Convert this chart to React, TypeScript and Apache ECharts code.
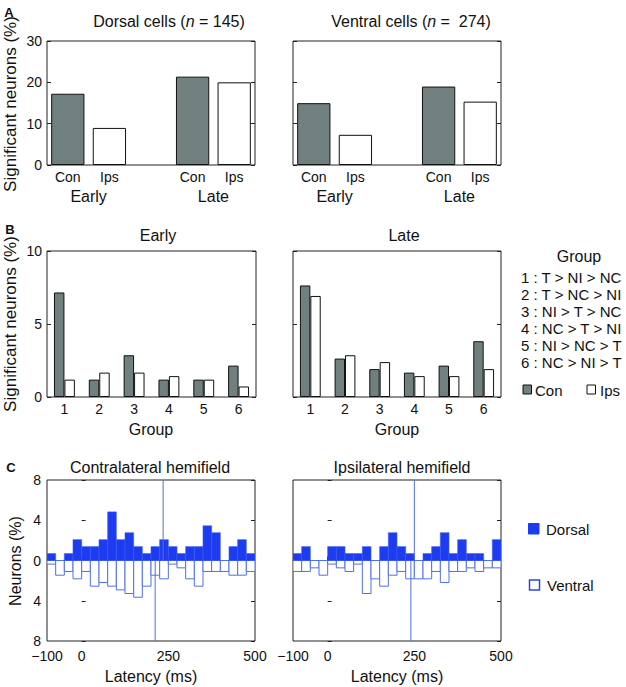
import React, { useEffect, useRef } from 'react';
import * as echarts from 'echarts';

// ---------- Data ----------
// Panel A
const aCategories = ['Con', 'Ips', '', 'Con', 'Ips'];
const aPeriodLabels = ['', '', 'Early', '', '', '', '', '', 'Late', '', ''];
const dorsalCon = [17.24, 21.38]; // Early, Late
const dorsalIps = [8.97, 20.0];
const ventralCon = [14.96, 18.98];
const ventralIps = [7.3, 15.33];

// Panel B
const groups = ['1', '2', '3', '4', '5', '6'];
const earlyCon = [7.16, 1.19, 2.86, 1.19, 1.19, 2.15];
const earlyIps = [1.19, 1.67, 1.67, 1.43, 1.19, 0.72];
const lateCon = [7.64, 2.63, 1.91, 1.67, 2.15, 3.82];
const lateIps = [6.92, 2.86, 2.39, 1.43, 1.43, 1.91];
const groupDefs = [
  '1 : T > NI > NC',
  '2 : T > NC > NI',
  '3 : NI > T > NC',
  '4 : NC > T > NI',
  '5 : NI > NC > T',
  '6 : NC > NI > T',
];

// Panel C (latency histograms, 25 ms bins)
const latencyEdges = [-100, -75, -50, -25, 0, 25, 50, 75, 100, 125, 150, 175, 200, 225, 250, 275, 300, 325, 350, 375, 400, 425, 450, 475, 500];
const contraDorsal = [0.69, 0, 0.69, 2.07, 1.38, 1.38, 2.07, 4.83, 2.07, 2.76, 1.38, 0.69, 1.38, 2.07, 1.38, 0.69, 1.38, 1.38, 3.45, 2.76, 0, 1.38, 2.07, 0.69];
const contraVentral = [0.36, 1.46, 1.09, 1.82, 1.09, 2.55, 2.19, 2.55, 2.92, 3.28, 3.65, 2.55, 1.46, 1.82, 0.36, 0.73, 1.82, 2.55, 1.09, 1.09, 1.09, 1.46, 1.46, 1.09];
const ipsiDorsal = [0.69, 1.38, 0, 0, 1.38, 1.38, 0.69, 0.69, 1.38, 0, 1.38, 2.76, 1.38, 0.69, 0, 0.69, 1.38, 2.76, 0.69, 2.07, 0.69, 0.69, 0, 2.07];
const ipsiVentral = [1.09, 1.09, 0.73, 1.46, 0.36, 0.73, 1.09, 0.36, 3.28, 1.82, 2.55, 1.46, 1.09, 1.82, 1.82, 1.82, 1.09, 2.19, 1.09, 1.09, 0.73, 1.09, 0.73, 0.73];
const contraDorsalMedian = 235;
const contraVentralMedian = 212;
const ipsiDorsalMedian = 250;
const ipsiVentralMedian = 240;
const latencyLabelValues = [-100, 0, 250, 500];
const latencyTickValues = [0, 250];

// ---------- Styles ----------
const FONT = '"Liberation Sans", Arial, Helvetica, sans-serif';
const TXT = '#111';
const AXIS = '#222';
const GRAY = '#6f807f';
const BLUE = '#1d3cf2';
const BLUE_EDGE = '#3a5aee';
const LIGHT_BLUE = '#5070e6';

const grids = [
  { left: 47, top: 41, width: 208, height: 124 },
  { left: 293, top: 41, width: 208, height: 124 },
  { left: 47, top: 251, width: 209, height: 146 },
  { left: 293, top: 251, width: 208, height: 146 },
  { left: 47, top: 480, width: 208, height: 161 },
  { left: 293, top: 480, width: 208, height: 161 },
];

function buildOption() {
  const xAxes: any[] = [];
  const yAxes: any[] = [];
  const series: any[] = [];
  const tick = { inside: true, length: 4, lineStyle: { color: AXIS, width: 1 } };
  const noLine = { show: false };
  const lbl = (extra: any) => ({ fontSize: 14, fontFamily: FONT, color: TXT, ...extra });

  const addX = (ax: any) => { xAxes.push(ax); return xAxes.length - 1; };
  const addY = (ax: any) => { yAxes.push(ax); return yAxes.length - 1; };

  const panelA = (gi: number, con: number[], ips: number[], showY: boolean) => {
    const xi = addX({ type: 'category', gridIndex: gi, data: aCategories, position: 'bottom', axisLine: noLine,
      axisTick: { ...tick, alignWithLabel: true }, axisLabel: lbl({ margin: 5, interval: 0 }) });
    addX({ type: 'category', gridIndex: gi, data: aCategories, position: 'top', axisLine: noLine,
      axisTick: { ...tick, alignWithLabel: true }, axisLabel: { show: false } });
    addX({ type: 'category', gridIndex: gi, data: aPeriodLabels, boundaryGap: false, position: 'bottom', axisLine: noLine,
      axisTick: { show: false }, axisLabel: lbl({ fontSize: 16, margin: 23, interval: 0 }) });
    const yi = addY({ type: 'value', gridIndex: gi, min: 0, max: 30, interval: 10, position: 'left', axisLine: noLine,
      axisTick: { ...tick, show: true }, splitLine: { show: false }, axisLabel: lbl({ show: showY, margin: 5 }) });
    addY({ type: 'value', gridIndex: gi, min: 0, max: 30, interval: 10, position: 'right', axisLine: noLine,
      axisTick: { ...tick, show: true }, splitLine: { show: false }, axisLabel: { show: false } });
    const conData = [con[0], '-', '-', con[1], '-'];
    const ipsData = ['-', ips[0], '-', '-', ips[1]];
    series.push({ type: 'bar', xAxisIndex: xi, yAxisIndex: yi, data: conData, barWidth: '80%', barGap: '-100%',
      itemStyle: { color: GRAY, borderColor: '#111', borderWidth: 1 } });
    series.push({ type: 'bar', xAxisIndex: xi, yAxisIndex: yi, data: ipsData, barWidth: '80%', barGap: '-100%',
      itemStyle: { color: '#fff', borderColor: '#111', borderWidth: 1 } });
  };

  const panelB = (gi: number, con: number[], ips: number[], showY: boolean) => {
    const xi = addX({ type: 'category', gridIndex: gi, data: groups, position: 'bottom', axisLine: noLine,
      axisTick: { ...tick, alignWithLabel: true }, axisLabel: lbl({ margin: 5, interval: 0 }) });
    addX({ type: 'category', gridIndex: gi, data: groups, position: 'top', axisLine: noLine,
      axisTick: { ...tick, alignWithLabel: true }, axisLabel: { show: false } });
    const yi = addY({ type: 'value', gridIndex: gi, min: 0, max: 10, interval: 5, position: 'left', axisLine: noLine,
      axisTick: { ...tick, show: true }, splitLine: { show: false }, axisLabel: lbl({ show: showY, margin: 5 }) });
    addY({ type: 'value', gridIndex: gi, min: 0, max: 10, interval: 5, position: 'right', axisLine: noLine,
      axisTick: { ...tick, show: true }, splitLine: { show: false }, axisLabel: { show: false } });
    series.push({ type: 'bar', xAxisIndex: xi, yAxisIndex: yi, data: con, barGap: '0%', barCategoryGap: '40%',
      itemStyle: { color: GRAY, borderColor: '#111', borderWidth: 1 } });
    series.push({ type: 'bar', xAxisIndex: xi, yAxisIndex: yi, data: ips, barGap: '0%', barCategoryGap: '40%',
      itemStyle: { color: '#fff', borderColor: '#111', borderWidth: 1 } });
  };

  const histSeries = (xi: number, yi: number, vals: number[], sign: number, filled: boolean) => ({
    type: 'custom', xAxisIndex: xi, yAxisIndex: yi, clip: true,
    encode: { x: [0, 1], y: 2 },
    data: vals.map((v, i) => [latencyEdges[i], latencyEdges[i + 1], sign * v]),
    renderItem: (params: any, api: any) => {
      const v = api.value(2);
      if (!v) return null;
      const p0 = api.coord([api.value(0), 0]);
      const p1 = api.coord([api.value(1), v]);
      return {
        type: 'rect',
        shape: { x: p0[0], y: Math.min(p0[1], p1[1]), width: p1[0] - p0[0], height: Math.abs(p1[1] - p0[1]) },
        style: filled ? { fill: BLUE, stroke: BLUE_EDGE, lineWidth: 0.6 } : { fill: '#fff', stroke: LIGHT_BLUE, lineWidth: 1 },
      };
    },
  });

  const panelC = (gi: number, dorsal: number[], ventral: number[], dMed: number, vMed: number, showY: boolean) => {
    const xi = addX({ type: 'value', gridIndex: gi, min: -100, max: 500, position: 'bottom', axisLine: noLine,
      splitLine: { show: false },
      axisTick: { ...tick, customValues: latencyTickValues },
      axisLabel: lbl({ margin: 8, lineHeight: 14, customValues: latencyLabelValues, showMinLabel: true, showMaxLabel: true,
        formatter: (v: number) => (v < 0 ? '\u2212' + Math.abs(v) : String(v)) }) });
    const yi = addY({ type: 'value', gridIndex: gi, min: -8, max: 8, interval: 4, position: 'left', axisLine: noLine,
      axisTick: { ...tick, show: true }, splitLine: { show: false },
      axisLabel: lbl({ show: showY, margin: 6, lineHeight: 13, formatter: (v: number) => String(Math.abs(v)) }) });
    addY({ type: 'value', gridIndex: gi, min: -8, max: 8, interval: 4, position: 'right', axisLine: noLine,
      axisTick: { ...tick, show: true }, splitLine: { show: false }, axisLabel: { show: false } });
    series.push(histSeries(xi, yi, ventral, -1, false));
    series.push(histSeries(xi, yi, dorsal, 1, true));
    series.push({ type: 'line', xAxisIndex: xi, yAxisIndex: yi, data: [[dMed, 0], [dMed, 8]], symbol: 'none', z: 5,
      lineStyle: { color: LIGHT_BLUE, width: 1 } });
    series.push({ type: 'line', xAxisIndex: xi, yAxisIndex: yi, data: [[vMed, 0], [vMed, -8]], symbol: 'none', z: 5,
      lineStyle: { color: LIGHT_BLUE, width: 1 } });
  };

  panelA(0, dorsalCon, dorsalIps, true);
  panelA(1, ventralCon, ventralIps, false);
  panelB(2, earlyCon, earlyIps, true);
  panelB(3, lateCon, lateIps, false);
  panelC(4, contraDorsal, contraVentral, contraDorsalMedian, contraVentralMedian, true);
  panelC(5, ipsiDorsal, ipsiVentral, ipsiDorsalMedian, ipsiVentralMedian, false);

  const text = (t: string, x: number, y: number, size: number, opts: any = {}) => ({
    type: 'text', x, y, rotation: opts.rotation || 0, z: 10,
    style: {
      text: t, x: 0, y: 0, fill: TXT, fontSize: size, fontFamily: FONT, fontWeight: opts.bold ? 'bold' : 'normal',
      align: opts.align || 'center', textAlign: opts.align || 'center',
      verticalAlign: 'middle', textVerticalAlign: 'middle',
      ...(opts.rich ? { rich: opts.rich } : {}),
    },
  });
  const richItal = {
    a: { fontSize: 16, fontFamily: FONT, fill: TXT },
    i: { fontSize: 16, fontFamily: FONT, fill: TXT, fontStyle: 'italic' },
  };

  const graphic: any[] = [
    text('A', 9, 12, 13, { bold: true }),
    text('B', 10, 229, 13, { bold: true }),
    text('C', 11, 467, 13, { bold: true }),
    text('{a|Dorsal cells (}{i|n}{a| = 145)}', 169, 21, 16, { rich: richItal }),
    text('{a|Ventral cells (}{i|n}{a| =  274)}', 411, 21, 16, { rich: richItal }),
    text('Significant neurons (%)', 10, 104, 17, { rotation: Math.PI / 2 }),
    text('Early', 158, 235, 16),
    text('Late', 404, 235, 16),
    text('Significant neurons (%)', 10, 324, 17, { rotation: Math.PI / 2 }),
    text('Group', 151, 429, 16),
    text('Group', 397, 429, 16),
    text('Group', 579, 256, 16),
    ...groupDefs.map((g, i) => text(g, 521, 277.5 + 17 * i, 15, { align: 'left' })),
    { type: 'rect', shape: { x: 523, y: 385, width: 8.5, height: 9 }, style: { fill: GRAY, stroke: '#111', lineWidth: 1 } },
    text('Con', 535, 390, 15, { align: 'left' }),
    { type: 'rect', shape: { x: 587, y: 385, width: 8.5, height: 9 }, style: { fill: '#fff', stroke: '#111', lineWidth: 1 } },
    text('Ips', 600, 390, 15, { align: 'left' }),
    text('Contralateral hemifield', 150, 467, 16),
    text('Ipsilateral hemifield', 402, 467, 16),
    text('Neurons (%)', 15, 561, 16, { rotation: Math.PI / 2 }),
    text('Latency (ms)', 151, 676, 16),
    text('Latency (ms)', 397, 676, 16),
    { type: 'rect', shape: { x: 528.5, y: 523.5, width: 10.5, height: 10.5 }, style: { fill: BLUE, stroke: BLUE, lineWidth: 1 } },
    text('Dorsal', 546, 529, 15, { align: 'left' }),
    { type: 'rect', shape: { x: 529.5, y: 580, width: 10, height: 10 }, style: { fill: '#fff', stroke: '#2a48e0', lineWidth: 1.5 } },
    text('Ventral', 547, 585, 15, { align: 'left' }),
  ];

  return {
    animation: false,
    backgroundColor: '#fff',
    textStyle: { fontFamily: FONT },
    grid: grids.map((g) => ({ ...g, show: true, borderColor: AXIS, borderWidth: 1, backgroundColor: 'transparent', containLabel: false })),
    xAxis: xAxes,
    yAxis: yAxes,
    series,
    graphic,
  };
}

export default function App() {
  const ref = useRef<HTMLDivElement>(null);
  useEffect(() => {
    if (!ref.current) return;
    const chart = echarts.init(ref.current, undefined, { renderer: 'svg' });
    chart.setOption(buildOption() as any);
    return () => chart.dispose();
  }, []);
  return <div ref={ref} style={{ position: 'absolute', left: 0, top: 0, width: 626, height: 687 }} />;
}
